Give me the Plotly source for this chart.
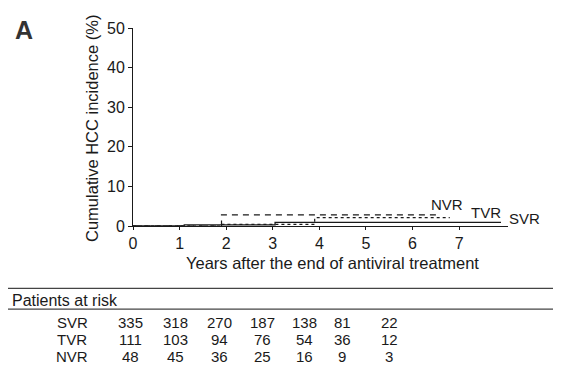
import plotly.graph_objects as go

# ---- data ----
svr_x = [0, 1.1, 3.05, 7.9]
svr_y = [0, 0.3, 0.9, 0.9]
tvr_x = [0, 1.9, 3.9, 6.8]
tvr_y = [0, 0.4, 2.1, 2.1]
nvr_x = [0, 1.9, 6.6]
nvr_y = [0, 2.8, 2.8]

groups = ["SVR", "TVR", "NVR"]
at_risk = {
    "SVR": [335, 318, 270, 187, 138, 81, 22],
    "TVR": [111, 103, 94, 76, 54, 36, 12],
    "NVR": [48, 45, 36, 25, 16, 9, 3],
}
x_ticks = [0, 1, 2, 3, 4, 5, 6, 7]
y_ticks = [0, 10, 20, 30, 40, 50]

# ---- layout constants (pixels) ----
OX = 8  # page body margin
W, H = 561 - OX, 376 - OX
L, T, B = 133 - OX, 26 - OX, 150
PW = 375
R = W - L - PW
PH = H - T - B

def px(xs):
    return (xs - OX - L) / PW

def py(ys):
    return (H - B - (ys - OX)) / PH

FONT = "Liberation Sans, Arial, sans-serif"
INK = "#1a1a1a"

fig = go.Figure()
fig.add_trace(go.Scatter(x=svr_x, y=svr_y, mode="lines", line=dict(shape="hv", color=INK, width=1.3), name="SVR"))
fig.add_trace(go.Scatter(x=tvr_x, y=tvr_y, mode="lines", line=dict(shape="hv", color=INK, width=1.2, dash="dot"), name="TVR"))
fig.add_trace(go.Scatter(x=nvr_x, y=nvr_y, mode="lines", line=dict(shape="hv", color=INK, width=1.2, dash="6px,5px"), name="NVR"))

ann = []
# curve labels
for lab, xs, ys in [("NVR", 447, 204), ("TVR", 486, 212), ("SVR", 524, 218)]:
    ann.append(dict(x=px(xs), y=py(ys), xref="paper", yref="paper", text=lab, showarrow=False,
                    xanchor="center", yanchor="middle",
                    font=dict(size=15, color=INK, family=FONT)))
# x-axis title
ann.append(dict(x=px(332), y=py(263), xref="paper", yref="paper",
                text="Years after the end of antiviral treatment", showarrow=False,
                xanchor="center", yanchor="middle", font=dict(size=16.5, color=INK, family=FONT)))
# y-axis title
ann.append(dict(x=px(92), y=py(128), xref="paper", yref="paper",
                text="Cumulative HCC incidence (%)", showarrow=False, textangle=-90,
                xanchor="center", yanchor="middle", font=dict(size=16.5, color=INK, family=FONT)))
# panel letter
ann.append(dict(x=px(13), y=py(28), xref="paper", yref="paper", text="<b>A</b>", showarrow=False,
                xanchor="left", yanchor="middle", font=dict(size=25, color="#333", family=FONT)))
# table
ann.append(dict(x=px(10), y=py(301), xref="paper", yref="paper", text="Patients at risk", showarrow=False,
                xanchor="left", yanchor="middle", font=dict(size=16, color=INK, family=FONT)))
col_px = [130, 175, 219, 262, 304, 342, 389]
row_py = [323, 341, 358]
for g, ry in zip(groups, row_py):
    ann.append(dict(x=px(72), y=py(ry), xref="paper", yref="paper", text=g, showarrow=False,
                    xanchor="center", yanchor="middle", font=dict(size=15, color=INK, family=FONT)))
    for v, cx in zip(at_risk[g], col_px):
        ann.append(dict(x=px(cx), y=py(ry), xref="paper", yref="paper", text=str(v), showarrow=False,
                        xanchor="center", yanchor="middle", font=dict(size=15, color=INK, family=FONT)))

shapes = []
for yl in [289, 310]:
    shapes.append(dict(type="line", xref="paper", yref="paper", x0=px(0), x1=px(561), y0=py(yl), y1=py(yl),
                       line=dict(color="#444", width=1.2)))

fig.update_layout(
    width=W, height=H,
    margin=dict(l=L, r=R, t=T, b=B),
    paper_bgcolor="white", plot_bgcolor="white",
    showlegend=False,
    font=dict(family=FONT, color=INK, size=15),
    annotations=ann, shapes=shapes,
    xaxis=dict(range=[0, 8.05], tickvals=x_ticks, showline=True, linecolor=INK, linewidth=1,
               ticks="outside", ticklen=3, tickcolor=INK, showgrid=False, zeroline=False,
               tickfont=dict(size=16)),
    yaxis=dict(range=[0, 50], tickvals=y_ticks, showline=True, linecolor=INK, linewidth=1,
               ticks="outside", ticklen=4, tickcolor=INK, showgrid=False, zeroline=False,
               tickfont=dict(size=16)),
)
fig.write_html("out.html")
